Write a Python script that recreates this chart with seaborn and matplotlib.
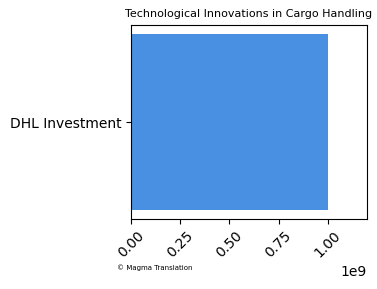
import matplotlib
matplotlib.use("Agg")
import matplotlib.pyplot as plt
import seaborn as sns
import pandas as pd

categories = ["DHL Investment"]
values = [1.0e9]

df = pd.DataFrame({"category": categories, "value": values})

sns.set_style("ticks", {"text.color": "black", "axes.labelcolor": "black",
                        "xtick.color": "black", "ytick.color": "black",
                        "axes.edgecolor": "black"})
plt.rcParams['font.family'] = ['DejaVu Sans']

fig = plt.figure(figsize=(3.77, 2.89), dpi=100)
ax = fig.add_axes([131/377, 1-219/289, (367-131)/377, (219-25)/289])
sns.barplot(data=df, x="value", y="category", orient="h", color="#4A90E2",
            saturation=1, width=0.8, linewidth=0, ax=ax)
ax.set_ylim(0.44, -0.44)
ax.set_xlim(0, 1.2e9)
ax.set_xlabel("")
ax.set_ylabel("")
ax.set_title("Technological Innovations in Cargo Handling", fontsize=8, color="black")
ax.tick_params(axis="x", rotation=45, labelsize=10, colors="black")
ax.tick_params(axis="y", labelsize=10, colors="black")
for s in ax.spines.values():
    s.set_visible(True)
    s.set_color("black")
fig.text(117/377, 1-268/289, "© Magma Translation", fontsize=5, va="center", ha="left", color="black")
fig.savefig("out.png", dpi=100)
